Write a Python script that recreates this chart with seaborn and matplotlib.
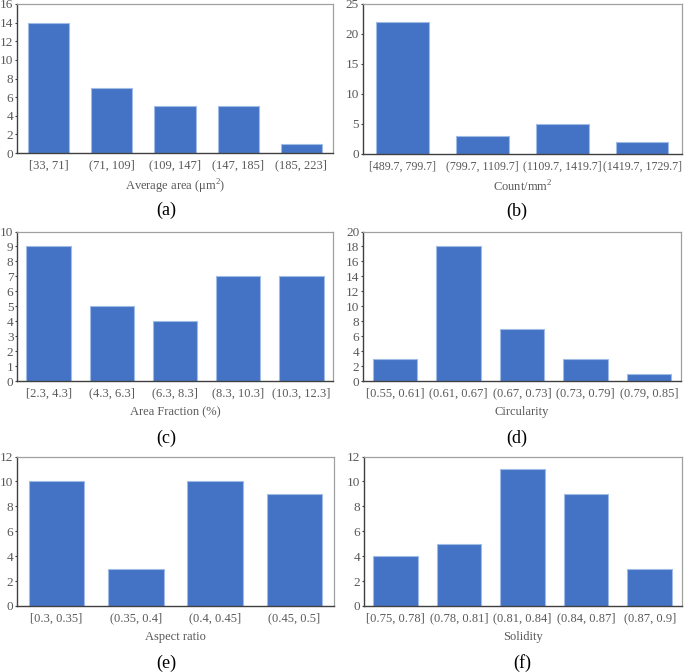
import matplotlib
matplotlib.use("Agg")
import matplotlib.pyplot as plt
import seaborn as sns
import pandas as pd

# ---- data ----
area_bins = ["[33, 71]", "(71, 109]", "(109, 147]", "(147, 185]", "(185, 223]"]
area_counts = [14, 7, 5, 5, 1]

density_bins = ["[489.7, 799.7]", "(799.7, 1109.7]", "(1109.7, 1419.7]", "(1419.7, 1729.7]"]
density_counts = [22, 3, 5, 2]

fraction_bins = ["[2.3, 4.3]", "(4.3, 6.3]", "(6.3, 8.3]", "(8.3, 10.3]", "(10.3, 12.3]"]
fraction_counts = [9, 5, 4, 7, 7]

circ_bins = ["[0.55, 0.61]", "(0.61, 0.67]", "(0.67, 0.73]", "(0.73, 0.79]", "(0.79, 0.85]"]
circ_counts = [3, 18, 7, 3, 1]

aspect_bins = ["[0.3, 0.35]", "(0.35, 0.4]", "(0.4, 0.45]", "(0.45, 0.5]"]
aspect_counts = [10, 3, 10, 9]

solid_bins = ["[0.75, 0.78]", "(0.78, 0.81]", "(0.81, 0.84]", "(0.84, 0.87]", "(0.87, 0.9]"]
solid_counts = [4, 5, 11, 9, 3]

xlabels = ["Average area (\u03bcm$^2$)", "Count/mm$^2$", "Area Fraction (%)",
           "Circularity", "Aspect ratio", "Solidity"]
letters = ["(a)", "(b)", "(c)", "(d)", "(e)", "(f)"]
yticks = [list(range(0, 17, 2)), list(range(0, 26, 5)), list(range(0, 11, 1)),
          list(range(0, 21, 2)), list(range(0, 13, 2)), list(range(0, 13, 2))]

panels = [(area_bins, area_counts), (density_bins, density_counts),
          (fraction_bins, fraction_counts), (circ_bins, circ_counts),
          (aspect_bins, aspect_counts), (solid_bins, solid_counts)]

# ---- style ----
sns.set_style("white")
plt.rcParams['font.family'] = ['Liberation Serif', 'DejaVu Serif']
plt.rcParams['mathtext.fontset'] = 'custom'
plt.rcParams['mathtext.rm'] = 'Liberation Serif'

W, H = 685, 672
fig = plt.figure(figsize=(W / 100, H / 100), dpi=100)

# axes boxes in pixels: left, right, top, bottom
boxes = [(17, 333, 4, 153), (362.5, 682, 4, 154),
         (17, 333, 231.5, 381), (363, 681, 231.5, 381),
         (17, 334, 456.5, 606), (363.5, 681.5, 456.5, 606)]
widths = [0.65, 0.66, 0.70, 0.70, 0.70, 0.70]
xtick_sizes = [9, 8.6, 9, 9, 9, 9]
letter_x = [166.5, 517, 166.5, 517, 166.5, 522]

blue = "#4472C4"
gray_txt = "#595959"

for i, ((cats, vals), (l, r, t, b)) in enumerate(zip(panels, boxes)):
    ax = fig.add_axes([l / W, 1 - b / H, (r - l) / W, (b - t) / H])
    df = pd.DataFrame({"bin": cats, "count": vals})
    sns.barplot(data=df, x="bin", y="count", color=blue, saturation=1,
                width=widths[i], edgecolor="#9fbbe6", linewidth=0.8, ax=ax)
    ax.set_ylim(0, yticks[i][-1])
    ax.set_yticks(yticks[i])
    ax.set_ylabel("")
    ax.set_xlabel(xlabels[i], fontsize=9, color=gray_txt, labelpad=5)
    ax.tick_params(axis="x", length=0, pad=4.5, labelsize=xtick_sizes[i],
                   labelcolor=gray_txt)
    ax.tick_params(axis="y", length=1.8, width=0.8, pad=0.8, labelsize=9.5,
                   labelcolor=gray_txt, color="#404040", left=True, direction="out")
    for side in ["top", "right"]:
        ax.spines[side].set_color("#a0a0a0")
        ax.spines[side].set_linewidth(0.9)
    for side in ["left", "bottom"]:
        ax.spines[side].set_color("#404040")
        ax.spines[side].set_linewidth(1.0)
    fig.text(letter_x[i] / W, 1 - (b + 57) / H, letters[i], fontsize=13,
             ha="center", va="center", color="black")

fig.savefig("out.png", dpi=100)
